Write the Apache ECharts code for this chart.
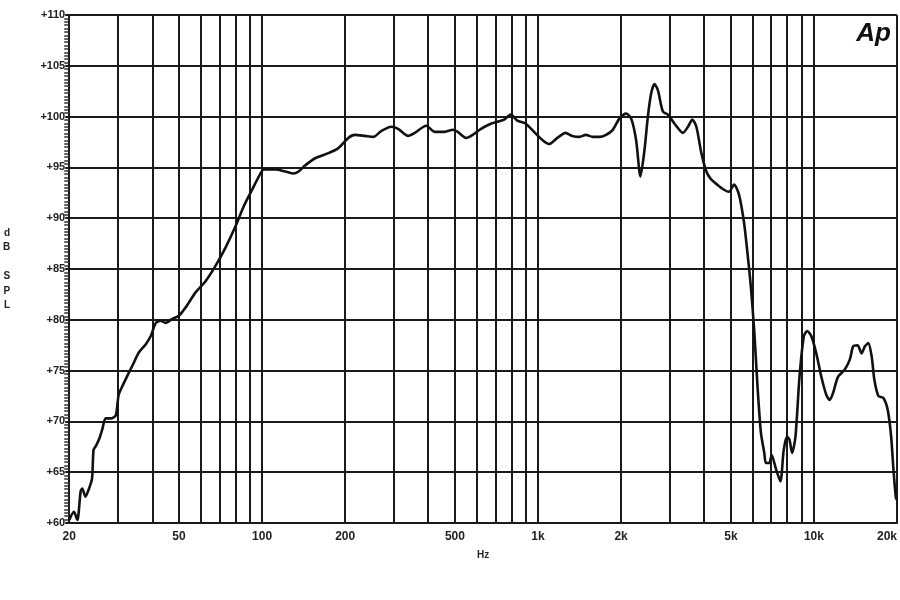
<!DOCTYPE html>
<html>
<head>
<meta charset="utf-8">
<script src="https://cdn.jsdelivr.net/npm/echarts@6/dist/echarts.min.js"></script>
<style>html,body{margin:0;padding:0;background:#fff}#c{width:900px;height:600px}</style>
</head>
<body>
<div id="c"></div>
<script>
var freqHz = [20,20.8,21.4,22.0,22.3,22.9,23.6,24.2,24.5,25.0,25.7,26.4,27.1,28.3,29.5,30.2,31.2,32.5,33.9,35.8,37.9,39.5,41.2,42.9,44.7,47.3,50.0,52.8,57.4,62.4,67.8,73.7,80.1,85.9,92.0,97.3,101.4,106,111.7,121.4,130.1,135.6,143.3,155.7,173.9,189.0,205.3,217.0,235.8,252.7,270.9,294.3,311.1,338.0,357.3,393.6,421.7,458.2,491.0,511.7,548.6,579.9,621.3,674.6,713.0,753.6,796.4,841.9,902.6,967.2,1037,1096,1175,1259,1330,1411,1492,1578,1668,1764,1866,1972,2085,2176,2267,2351,2431,2501,2571,2644,2719,2835,2955,3125,3352,3495,3625,3749,3909,4076,4219,4463,4721,4923,5134,5354,5584,5741,5905,6073,6246,6424,6607,6699,6890,7026,7288,7557,7772,7993,8152,8334,8572,8866,9194,9456,9779,10198,10636,11092,11407,11730,12232,12939,13496,13879,14393,14883,15305,15741,16188,16557,17124,17857,18519,19047,19425,19809,20000];
var splDb = [60.3,61.1,60.3,63.1,63.4,62.6,63.4,64.4,67.2,67.6,68.3,69.3,70.3,70.3,70.6,72.6,73.5,74.5,75.5,76.8,77.6,78.4,79.7,79.9,79.7,80.1,80.4,81.2,82.7,83.8,85.3,87.1,89.2,91.2,92.8,94.1,94.8,94.8,94.8,94.6,94.4,94.6,95.2,95.9,96.4,96.9,97.9,98.2,98.1,98.0,98.6,99.0,98.8,98.1,98.4,99.1,98.5,98.5,98.7,98.5,97.9,98.2,98.8,99.3,99.5,99.7,100.2,99.6,99.3,98.5,97.7,97.3,97.9,98.4,98.1,98.0,98.2,98.0,98.0,98.2,98.7,99.8,100.3,99.8,97.7,94.1,96.7,100.0,102.3,103.2,102.6,100.5,100.2,99.3,98.4,99.0,99.7,99.0,96.4,94.6,93.9,93.3,92.8,92.6,93.3,92.3,89.5,86.6,83.3,79.0,73.4,68.9,66.9,65.9,65.9,66.7,65.3,64.1,67.2,68.5,68.2,66.9,68.5,74.4,78.4,78.9,78.4,76.7,74.4,72.6,72.1,72.8,74.4,75.1,76.1,77.4,77.5,76.7,77.4,77.7,76.4,74.1,72.5,72.3,71.1,68.5,65.2,62.5,62.3];
var gridFreqs = [20,30,40,50,60,70,80,90,100,200,300,400,500,600,700,800,900,1000,2000,3000,4000,5000,6000,7000,8000,9000,10000,20000];
var labelFreqs = [20,50,100,200,500,1000,2000,5000,10000,20000];
var labelText = {20:'20',50:'50',100:'100',200:'200',500:'500',1000:'1k',2000:'2k',5000:'5k',10000:'10k',20000:'20k'};

var seriesData = freqHz.map(function(f, i){ return [f, splDb[i]]; });
var fontFam = '"Liberation Sans Narrow","Liberation Sans",Arial,sans-serif';
var chart = echarts.init(document.getElementById('c'), null, {renderer:'canvas'});
chart.setOption({
  animation: false,
  backgroundColor: '#ffffff',
  title: {
    text: 'Ap', right: 4, top: 16,
    textStyle: {fontSize: 26, fontWeight: 900, fontStyle: 'italic', color: '#111', fontFamily: 'Liberation Sans, Arial, sans-serif'}
  },
  grid: {left: 67, right: 3, top: 15, bottom: 77, containLabel: false},
  xAxis: {
    type: 'log', logBase: 10, min: 20, max: 20000,
    name: 'Hz', nameLocation: 'middle', nameGap: 27,
    nameTextStyle: {fontSize: 10, fontWeight: 'bold', color: '#222', fontFamily: fontFam},
    axisLine: {show: true, lineStyle: {color: '#1a1a1a', width: 2}},
    axisTick: {show: false, customValues: gridFreqs},
    axisLabel: {
      customValues: labelFreqs, margin: 8, alignMaxLabel: 'right',
      fontSize: 12, fontWeight: 'bold', color: '#222', fontFamily: fontFam,
      formatter: function(v){ return labelText[Math.round(v)] || ''; }
    },
    splitLine: {show: true, lineStyle: {color: '#1a1a1a', width: 2}},
    minorSplitLine: {show: false}
  },
  yAxis: {
    type: 'value', min: 60, max: 110, interval: 5,
    name: 'd\nB\n\nS\nP\nL', nameLocation: 'middle', nameRotate: 0, nameGap: 59,
    nameTextStyle: {fontSize: 10, fontWeight: 'bold', color: '#222', lineHeight: 14.5, fontFamily: fontFam},
    axisLine: {show: true, lineStyle: {color: '#1a1a1a', width: 2}},
    axisTick: {show: true, inside: false, length: 4, lineStyle: {color: '#1a1a1a', width: 2}},
    minorTick: {show: true, splitNumber: 15, length: 5, lineStyle: {color: '#333', width: 1.5}},
    axisLabel: {
      margin: 4, fontSize: 11, fontWeight: 'bold', color: '#222', fontFamily: fontFam,
      formatter: function(v){ return '+' + v; }
    },
    splitLine: {show: true, lineStyle: {color: '#1a1a1a', width: 2}}
  },
  series: [{
    type: 'line', data: seriesData, showSymbol: false, smooth: 0.25,
    lineStyle: {color: '#111', width: 2.6}, z: 5
  }]
});
</script>
</body>
</html>
